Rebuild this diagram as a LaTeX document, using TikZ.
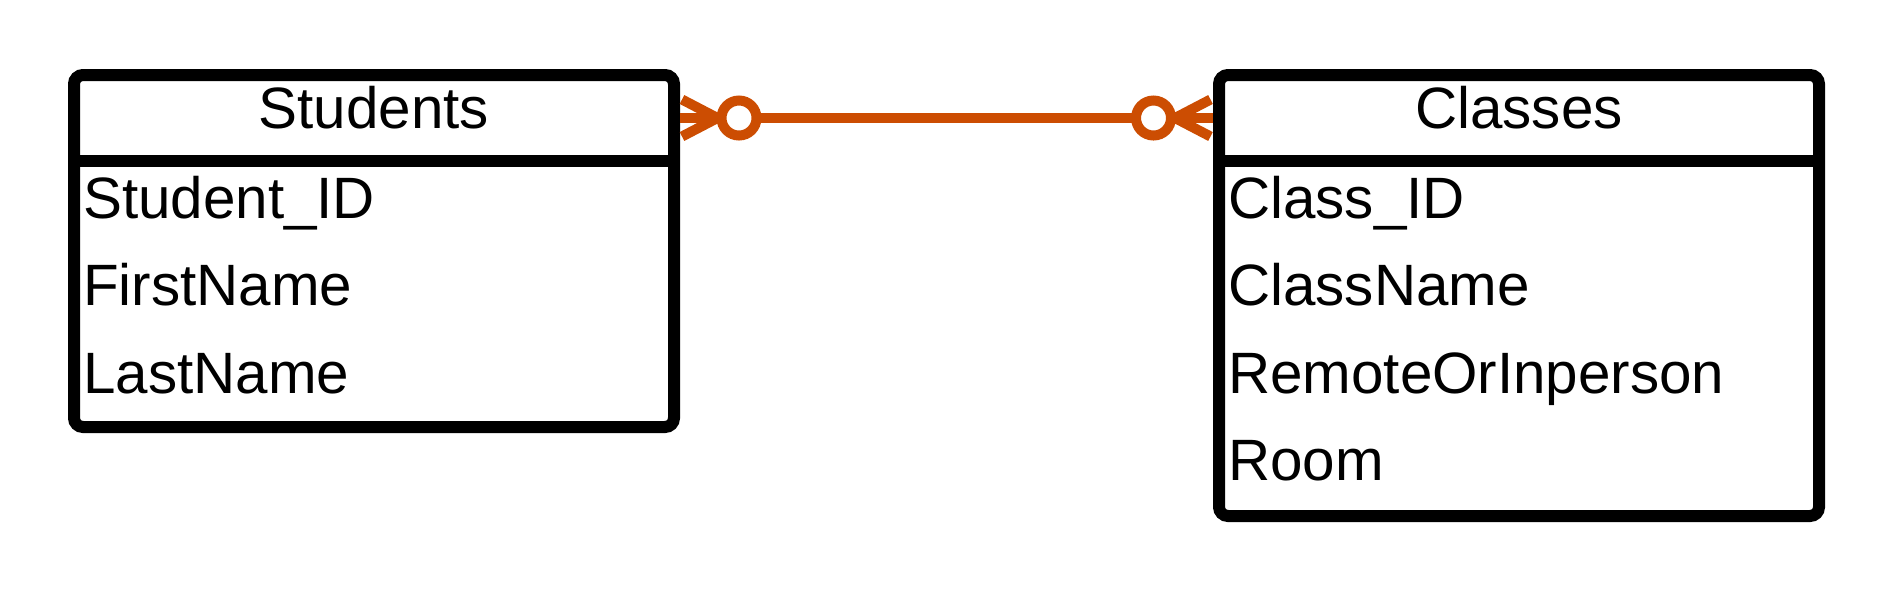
\documentclass[tikz,border=0pt]{standalone}
\usepackage{fontspec}
\setmainfont{Liberation Sans}
\usetikzlibrary{positioning,calc}
\definecolor{reltone}{RGB}{204,77,2}
\newcommand{\zeromany}{\draw[relline,fill=white] (0,0) circle (0.175);
					\draw[relline] (-0.215,0) -- (-0.57,0.185);
					\draw[relline] (-0.215,0) -- (-0.57,0);
					\draw[relline] (-0.215,0) -- (-0.57,-0.185);}
\tikzset{
	every node/.style={font=\fontsize{16.6pt}{19pt}\selectfont},
	tablebox/.style={draw, line width=0.12cm, rounded corners=0.09cm, minimum width=6cm, inner sep=0pt, outer sep=0pt, anchor=north west},
	headcell/.style={minimum width=6cm, minimum height=0.86cm, text height=0.42cm, text depth=0.22cm, inner sep=0pt, outer sep=0pt, anchor=north west},
	fieldcell/.style={inner sep=0pt, anchor=base west},
	tableline/.style={line width=0.12cm},
	relline/.style={draw=reltone, line width=0.1cm}
}

\begin{document}
\begin{tikzpicture}
					\useasboundingbox (0,0) rectangle (18.94,-5.91);

					% tables
					\node[tablebox, minimum height=3.52cm] (students) at (0.74,-0.75) {};
					\node[tablebox, minimum height=4.41cm] (classes) at (12.19,-0.75) {};

					\node[headcell] (stuhead) at (students.north west) {Students};
					\node[headcell] (clshead) at (classes.north west) {Classes};
					\draw[tableline] (stuhead.south west) -- (stuhead.south east);
					\draw[tableline] (clshead.south west) -- (clshead.south east);

					\node[fieldcell] (sid) at ($(students.north west)+(0.085,-1.43)$) {Student\_ID};
					\node[fieldcell, below=0.875cm of sid.base west, anchor=base west] (sfirst) {FirstName};
					\node[fieldcell, below=0.875cm of sfirst.base west, anchor=base west] (slast) {LastName};

					\node[fieldcell] (cid) at ($(classes.north west)+(0.085,-1.43)$) {Class\_ID};
					\node[fieldcell, below=0.875cm of cid.base west, anchor=base west] (cname) {ClassName};
					\node[fieldcell, below=0.875cm of cname.base west, anchor=base west] (cmode) {RemoteOrInperson};
					\node[fieldcell, below=0.875cm of cmode.base west, anchor=base west] (croom) {Room};

					% relation
					\draw[relline, shorten <=0.06cm, shorten >=0.06cm] (stuhead.east) -- (clshead.west);

					\begin{scope}[shift={($(stuhead.east)+(0.65,0)$)}]
						\zeromany
					\end{scope}

					\begin{scope}[shift={($(clshead.west)+(-0.655,0)$)}, xscale=-1]
						\zeromany
					\end{scope}

				\end{tikzpicture}
\end{document}
